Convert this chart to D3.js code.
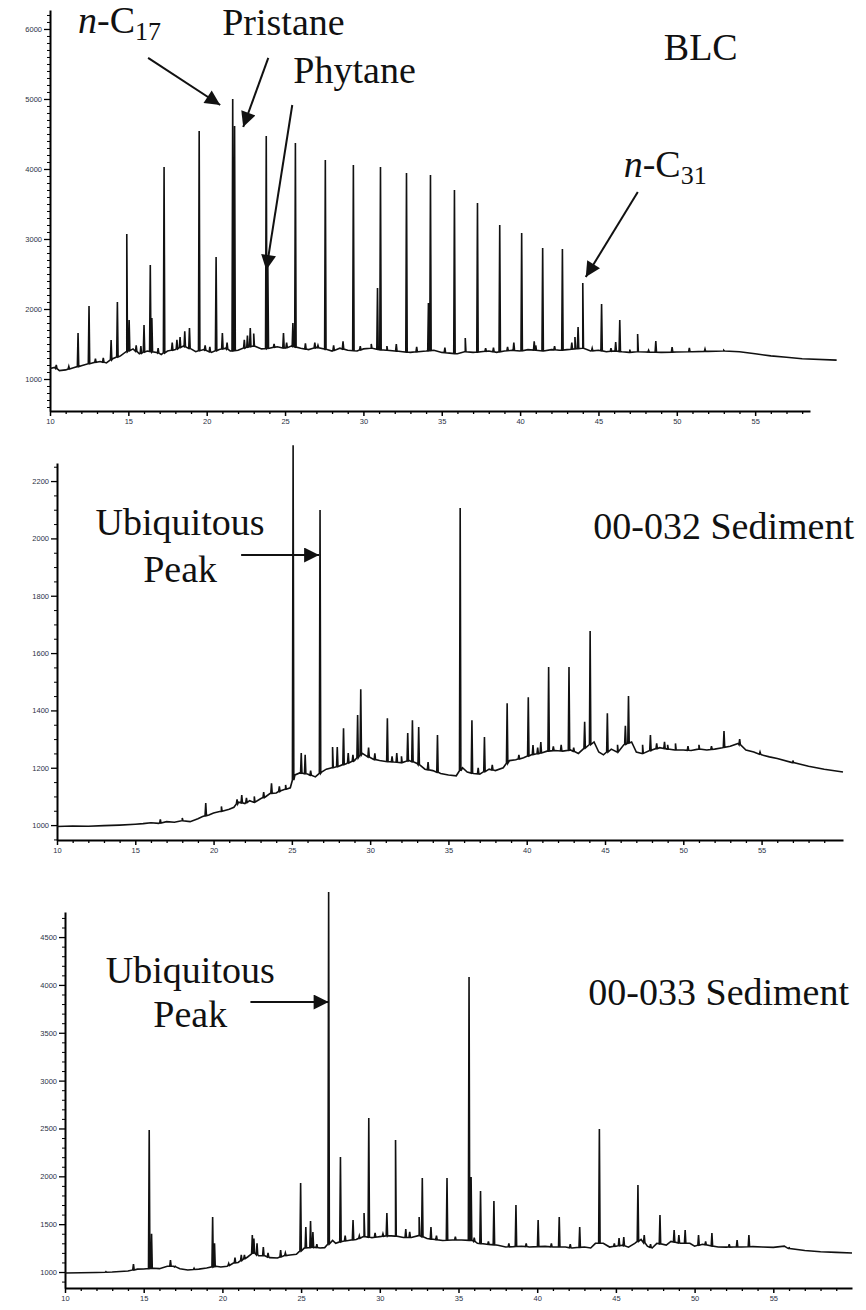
<!DOCTYPE html>
<html>
<head>
<meta charset="utf-8">
<script src="https://cdn.jsdelivr.net/npm/d3@7"></script>
<style>
  body { margin: 0; background: #fff; }
  .tick text { font-family: "Liberation Sans", Arial, sans-serif; font-size: 7.5px; fill: #2b3245; }
  .ann { font-family: "Liberation Serif", "Times New Roman", serif; fill: #111; }
</style>
</head>
<body>
<div id="chart"></div>
<script>
// ---- BLC (retention time [min], abundance) ----
const blcBase = [[10,1150],[10.3,1165],[10.6,1120],[11,1130],[11.5,1160],[12,1190],[12.7,1230],[13.2,1250],[13.6,1230],[14,1290],[14.5,1330],[14.9,1390],[15.3,1430],[15.7,1360],[16.2,1400],[16.8,1380],[17.1,1350],[17.5,1400],[18,1420],[18.5,1470],[19,1430],[19.3,1390],[19.8,1420],[20.3,1380],[20.8,1420],[21.2,1440],[21.5,1400],[22,1410],[22.5,1450],[23,1470],[23.5,1430],[24,1440],[24.5,1460],[25,1440],[25.4,1470],[26,1440],[26.5,1420],[27,1450],[27.5,1430],[28,1400],[28.5,1440],[29,1410],[29.6,1400],[30,1430],[30.5,1440],[31,1420],[31.5,1410],[32,1400],[32.5,1390],[33,1380],[33.5,1390],[34,1400],[34.5,1410],[35,1380],[35.5,1370],[36,1360],[36.5,1390],[37,1380],[37.5,1390],[38,1400],[38.5,1380],[39,1400],[39.5,1410],[40,1400],[40.5,1420],[41,1410],[41.5,1400],[42,1420],[42.5,1410],[43,1420],[43.5,1430],[44,1440],[44.5,1400],[45,1410],[45.5,1390],[46,1400],[46.5,1390],[47,1380],[47.5,1390],[48,1385],[49,1380],[50,1385],[51,1390],[52,1395],[53,1400],[54,1390],[55,1360],[56,1330],[57,1310],[58,1290],[60.2,1270]];
const blcPeaks = [[10.4,1200],[11.2,1180],[11.79,1657],[12.49,2043],[12.9,1290],[13.4,1300],[13.9,1557],[14.3,2100],[14.9,3071],[15.05,1843],[15.5,1480],[15.8,1470],[16.0,1771],[16.4,2629],[16.5,1871],[16.9,1440],[17.28,4029],[17.8,1520],[18.1,1560],[18.3,1600],[18.6,1680],[18.9,1729],[19.52,4543],[19.9,1480],[20.2,1460],[20.6,2743],[21.0,1657],[21.3,1520],[21.66,5000],[21.78,4614],[22.4,1560],[22.6,1620],[22.78,1729],[23.0,1650],[23.8,4471],[23.9,2650],[24.3,1500],[24.9,1657],[25.1,1520],[25.5,1800],[25.66,4371],[26.3,1510],[26.9,1520],[27.1,1480],[27.57,4129],[28.1,1480],[28.7,1540],[29.36,4057],[29.8,1470],[30.5,1500],[30.9,2300],[31.09,4029],[31.5,1470],[32.1,1500],[32.75,3943],[33.4,1460],[34.15,2086],[34.28,3914],[35.2,1450],[35.81,3700],[36.5,1586],[37.28,3514],[37.8,1440],[38.3,1450],[38.7,3200],[39.2,1460],[39.6,1520],[40.1,3086],[40.9,1540],[41.0,1480],[41.44,2871],[42.2,1470],[42.7,2857],[43.3,1520],[43.5,1600],[43.7,1743],[44.0,2371],[44.6,1440],[45.2,2071],[45.8,1440],[46.1,1529],[46.36,1843],[47.0,1420],[47.5,1643],[48.2,1410],[48.66,1543],[49.7,1457],[50.8,1443],[51.8,1429],[53.0,1410]];

// ---- 00-032 Sediment ----
const s032Base = [[10,995],[11,997],[12,996],[13,998],[14,1000],[15,1003],[15.5,1005],[16,1008],[16.5,1006],[17,1012],[17.5,1010],[18,1015],[18.5,1012],[19,1022],[19.3,1030],[19.7,1035],[20,1042],[20.5,1048],[21,1055],[21.3,1062],[21.6,1080],[22,1075],[22.3,1085],[22.6,1080],[23,1092],[23.3,1098],[23.6,1110],[24,1112],[24.3,1120],[24.6,1125],[24.9,1130],[25.2,1175],[25.5,1182],[26,1178],[26.5,1168],[26.9,1185],[27.2,1195],[27.6,1200],[28,1205],[28.5,1215],[29,1225],[29.5,1250],[29.8,1240],[30.2,1230],[30.6,1225],[31,1222],[31.5,1220],[32,1218],[32.5,1225],[33,1215],[33.5,1195],[34,1190],[34.5,1180],[35,1175],[35.5,1172],[35.9,1200],[36.2,1185],[36.6,1180],[37,1178],[37.6,1195],[38,1190],[38.5,1200],[38.9,1225],[39.3,1228],[39.8,1235],[40.3,1245],[40.8,1250],[41.3,1258],[41.8,1260],[42.3,1258],[42.8,1262],[43.3,1250],[43.6,1265],[44.3,1290],[44.6,1255],[44.9,1245],[45.4,1265],[45.8,1255],[46.2,1280],[46.7,1290],[47,1255],[47.4,1250],[48,1262],[48.5,1270],[49,1265],[49.5,1262],[50,1262],[50.5,1260],[51,1265],[51.5,1262],[52,1265],[52.5,1270],[53,1275],[53.5,1285],[54,1262],[54.5,1255],[55,1245],[55.5,1238],[56,1232],[57,1218],[58,1205],[59,1195],[60.2,1185]];
const s032Peaks = [[16.6,1020],[18.0,1025],[19.5,1077],[20.5,1065],[21.5,1090],[21.8,1105],[22.1,1095],[22.6,1100],[23.2,1115],[23.7,1146],[24.2,1135],[24.6,1140],[25.08,2325],[25.6,1251],[25.85,1245],[26.2,1190],[26.8,2099],[27.6,1272],[27.9,1272],[28.3,1338],[28.6,1251],[28.9,1245],[29.2,1384],[29.4,1474],[29.9,1270],[30.3,1250],[31.1,1373],[31.4,1240],[31.7,1251],[32.0,1240],[32.4,1321],[32.7,1366],[33.1,1342],[33.7,1220],[34.3,1314],[35.75,2106],[36.5,1366],[36.9,1200],[37.3,1307],[37.8,1210],[38.75,1425],[39.5,1245],[40.1,1446],[40.4,1279],[40.7,1270],[40.9,1290],[41.4,1551],[41.7,1275],[42.2,1280],[42.7,1551],[43.0,1270],[43.7,1360],[44.05,1677],[45.15,1390],[45.8,1280],[46.3,1346],[46.5,1450],[47.4,1280],[47.9,1314],[48.3,1285],[48.8,1290],[49.0,1280],[49.5,1285],[50.3,1275],[51.0,1280],[51.8,1275],[52.6,1328],[53.6,1300],[54.9,1255],[57.0,1225]];

// ---- 00-033 Sediment ----
const s033Base = [[10,990],[11,992],[12,995],[13,1000],[14,1010],[14.6,1030],[15,1031],[15.6,1040],[16,1035],[16.5,1060],[16.9,1060],[17.3,1035],[17.8,1021],[18.5,1030],[19,1042],[19.6,1060],[19.9,1052],[20.3,1060],[20.7,1094],[21,1100],[21.3,1130],[21.6,1157],[22,1200],[22.3,1170],[22.7,1170],[23,1150],[23.5,1146],[23.9,1170],[24.3,1178],[24.7,1185],[25.2,1250],[25.8,1260],[26.2,1251],[26.5,1255],[27,1330],[27.2,1300],[27.6,1320],[28,1330],[28.5,1340],[29,1370],[29.5,1360],[30,1370],[30.5,1380],[31,1375],[31.5,1360],[32,1360],[32.5,1380],[33,1350],[33.5,1340],[34,1330],[34.6,1335],[35.2,1334],[35.9,1330],[36.2,1300],[36.8,1290],[37.5,1280],[38,1262],[38.5,1265],[39,1270],[39.5,1262],[40.5,1268],[41,1262],[41.8,1262],[42.2,1251],[43,1262],[43.4,1251],[43.7,1300],[44.2,1300],[44.6,1261],[45,1270],[45.4,1280],[45.8,1260],[46.2,1300],[46.6,1340],[47,1270],[47.3,1251],[47.6,1300],[48.2,1282],[48.5,1320],[49.1,1300],[49.7,1300],[50,1270],[50.5,1290],[51,1275],[51.5,1262],[52,1260],[52.5,1262],[53,1262],[53.7,1265],[54.3,1261],[55,1258],[55.7,1270],[56,1245],[57,1225],[58,1212],[59,1205],[60.0,1199]];
const s033Peaks = [[12.6,1005],[14.35,1084],[15.35,2484],[15.5,1400],[16.7,1125],[17.0,1060],[18.2,1040],[19.38,1575],[19.5,1300],[20.4,1090],[20.8,1150],[21.2,1180],[21.4,1180],[21.9,1387],[22.0,1350],[22.2,1300],[22.6,1261],[22.9,1200],[23.7,1230],[24.0,1200],[24.97,1930],[25.3,1470],[25.6,1533],[25.75,1418],[26.0,1290],[26.75,4971],[27.5,2202],[27.8,1380],[28.3,1543],[28.7,1380],[29.0,1616],[29.3,2609],[29.7,1410],[30.2,1400],[30.45,1616],[31.0,2379],[31.65,1449],[31.9,1420],[32.5,1575],[32.7,1982],[33.25,1470],[33.6,1380],[34.27,1982],[34.8,1370],[35.67,4083],[35.8,1993],[36.0,1360],[36.4,1846],[36.9,1320],[37.25,1742],[38.2,1300],[38.65,1700],[39.3,1300],[40.06,1543],[40.9,1300],[41.4,1575],[42.1,1290],[42.7,1470],[43.95,2494],[44.9,1300],[45.2,1355],[45.5,1366],[46.4,1909],[46.8,1387],[47.2,1290],[47.8,1596],[48.7,1439],[49.0,1387],[49.4,1439],[50.25,1387],[50.7,1320],[51.1,1408],[52.2,1290],[52.7,1334],[53.45,1387],[56.0,1260]];

// tick labels
const xTicks = [10, 15, 20, 25, 30, 35, 40, 45, 50, 55];
const blcYTicks = [1000, 2000, 3000, 4000, 5000, 6000];
const s032YTicks = [1000, 1200, 1400, 1600, 1800, 2000, 2200];
const s033YTicks = [1000, 1500, 2000, 2500, 3000, 3500, 4000, 4500];

// annotations: text and arrows in data units (min, abundance)
const blcLabels = [
  {t: 11.79, v: 5943, text: "n-C", sub: "17", italic: true},
  {t: 20.99, v: 5914, text: "Pristane"},
  {t: 25.53, v: 5229, text: "Phytane"},
  {t: 49.17, v: 5557, text: "BLC"},
  {t: 46.61, v: 3886, text: "n-C", sub: "31", italic: true}
];
const blcArrows = [
  {from: [16.26, 5586], to: [20.86, 4914]},
  {from: [23.93, 5586], to: [22.33, 4600]},
  {from: [25.46, 4914], to: [23.80, 2557]},
  {from: [47.51, 3671], to: [44.19, 2457]}
];
const s032Labels = [
  {t: 17.86, v: 2012, text: "Ubiquitous", anchor: "middle"},
  {t: 17.86, v: 1848, text: "Peak", anchor: "middle"},
  {t: 44.25, v: 1998, text: "00-032 Sediment"}
];
const s032Arrows = [{from: [21.76, 1942], to: [26.74, 1942]}];
const s033Labels = [
  {t: 17.96, v: 4020, text: "Ubiquitous", anchor: "middle"},
  {t: 17.96, v: 3560, text: "Peak", anchor: "middle"},
  {t: 43.25, v: 3790, text: "00-033 Sediment"}
];
const s033Arrows = [{from: [21.78, 3821], to: [26.75, 3821]}];

const width = 866, height = 1310;

const panels = [
  {base: blcBase, peaks: blcPeaks, yTicks: blcYTicks, yMinor: 100, labels: blcLabels, arrows: blcArrows,
   xDomain: [10, 58.5], xRange: [50, 810], yDomain: [543, 6271], yRange: [411, 10]},
  {base: s032Base, peaks: s032Peaks, yTicks: s032YTicks, yMinor: 50, labels: s032Labels, arrows: s032Arrows,
   xDomain: [10, 60.2], xRange: [57, 843], yDomain: [948, 2263], yRange: [840, 463]},
  {base: s033Base, peaks: s033Peaks, yTicks: s033YTicks, yMinor: 100, labels: s033Labels, arrows: s033Arrows,
   xDomain: [10, 60.0], xRange: [65, 852], yDomain: [833, 4762], yRange: [1288, 912]}
];

const svg = d3.select("#chart").append("svg")
  .attr("width", width)
  .attr("height", height);

svg.append("defs").append("marker")
  .attr("id", "arrow")
  .attr("viewBox", "0 0 10 10")
  .attr("refX", 10).attr("refY", 5)
  .attr("markerUnits", "userSpaceOnUse")
  .attr("markerWidth", 19).attr("markerHeight", 15)
  .attr("orient", "auto")
  .append("path")
  .attr("d", "M0,0 L10,5 L0,10 Z")
  .attr("fill", "#111");

// baseline value at t (puts the foot of each peak on the trace)
function baseAt(base, t) {
  const i = d3.bisector(d => d[0]).left(base, t);
  if (i <= 0) return base[0][1];
  if (i >= base.length) return base[base.length - 1][1];
  const a = base[i - 1], b = base[i];
  return a[1] + (b[1] - a[1]) * (t - a[0]) / (b[0] - a[0]);
}

function buildTrace(base, peaks) {
  const w = 0.045;
  let pts = base.slice();
  peaks.forEach(p => {
    const foot = baseAt(base, p[0]);
    pts.push([p[0] - w, foot], [p[0], p[1]], [p[0] + w, foot]);
  });
  return pts.sort((a, b) => a[0] - b[0]);
}

panels.forEach(p => {
  const x = d3.scaleLinear().domain(p.xDomain).range(p.xRange);
  const y = d3.scaleLinear().domain(p.yDomain).range(p.yRange);
  const g = svg.append("g");

  // minor ticks
  const xMinor = d3.range(11, p.xDomain[1], 1).filter(v => v % 5 !== 0);
  g.append("g")
    .attr("transform", `translate(0,${p.yRange[0]})`)
    .call(d3.axisBottom(x).tickValues(xMinor).tickSize(3).tickSizeOuter(0).tickFormat(""))
    .call(a => a.select(".domain").remove())
    .selectAll("line").attr("stroke-width", 1.3);

  const yMin = d3.range(Math.ceil(p.yDomain[0] / p.yMinor) * p.yMinor, p.yDomain[1], p.yMinor)
    .filter(v => !p.yTicks.includes(v));
  g.append("g")
    .attr("transform", `translate(${p.xRange[0]},0)`)
    .call(d3.axisLeft(y).tickValues(yMin).tickSize(3).tickSizeOuter(0).tickFormat(""))
    .call(a => a.select(".domain").remove())
    .selectAll("line").attr("stroke-width", 1);

  // major axes
  const xAxisG = g.append("g")
    .attr("transform", `translate(0,${p.yRange[0]})`)
    .call(d3.axisBottom(x).tickValues(xTicks).tickSize(5).tickSizeOuter(0).tickPadding(3).tickFormat(d3.format("d")));
  xAxisG.select(".domain").attr("stroke-width", 2);
  xAxisG.selectAll(".tick line").attr("stroke-width", 1.5);

  const yAxisG = g.append("g")
    .attr("transform", `translate(${p.xRange[0]},0)`)
    .call(d3.axisLeft(y).tickValues(p.yTicks).tickSize(6).tickSizeOuter(0).tickPadding(2).tickFormat(d3.format("d")));
  yAxisG.select(".domain").attr("stroke-width", 2);
  yAxisG.selectAll(".tick line").attr("stroke-width", 1.3);

  // chromatogram trace
  const line = d3.line().x(d => x(d[0])).y(d => y(d[1]));
  g.append("path")
    .datum(buildTrace(p.base, p.peaks))
    .attr("fill", "none")
    .attr("stroke", "#111")
    .attr("stroke-width", 1.6)
    .attr("stroke-linejoin", "miter")
    .attr("d", line);

  // arrows
  g.selectAll(".arrow")
    .data(p.arrows)
    .join("line")
    .attr("class", "arrow")
    .attr("x1", d => x(d.from[0])).attr("y1", d => y(d.from[1]))
    .attr("x2", d => x(d.to[0])).attr("y2", d => y(d.to[1]))
    .attr("stroke", "#111")
    .attr("stroke-width", 2)
    .attr("marker-end", "url(#arrow)");

  // labels
  const txt = g.selectAll(".ann")
    .data(p.labels)
    .join("text")
    .attr("class", "ann")
    .attr("x", d => x(d.t))
    .attr("y", d => y(d.v))
    .attr("text-anchor", d => d.anchor || "start")
    .attr("font-size", 38);
  txt.each(function(d) {
    const t = d3.select(this);
    if (d.italic) {
      t.append("tspan").attr("font-style", "italic").text("n");
      t.append("tspan").text("-C");
      t.append("tspan").attr("font-size", 26).attr("dy", 7).text(d.sub);
    } else {
      t.text(d.text);
    }
  });
});
</script>
</body>
</html>
